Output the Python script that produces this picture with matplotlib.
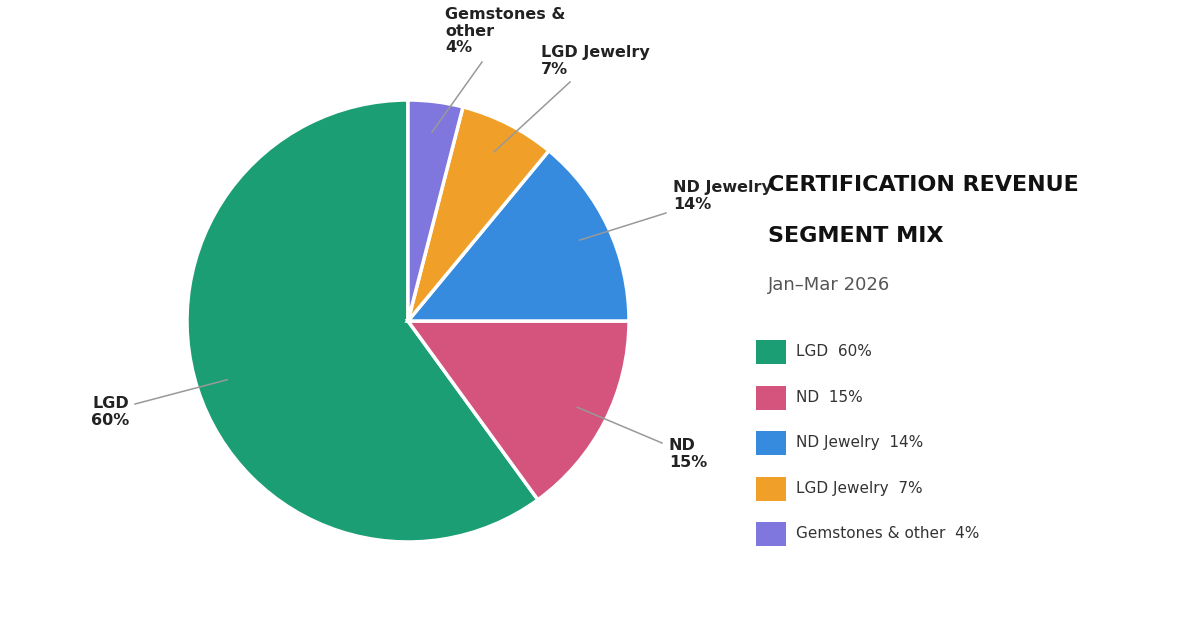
import numpy as np
import matplotlib
matplotlib.use("Agg")
import matplotlib.pyplot as plt
from matplotlib.patches import Rectangle

labels = ["LGD", "ND", "ND Jewelry", "LGD Jewelry", "Gemstones & other"]
values = [60, 15, 14, 7, 4]
colors = ["#1c9e74", "#d4547e", "#368bde", "#f0a028", "#7f76de"]
label_text = ["LGD\n60%", "ND\n15%", "ND Jewelry\n14%", "LGD Jewelry\n7%", "Gemstones &\nother\n4%"]
# label anchor (pixels) and leader-line elbow (pixels)
text_px = [(129, 412), (669, 454), (673, 196), (541, 61), (445, 31)]
elbow_px = [(135, 404), (662, 443), (666, 213), (570, 82), (482, 62)]
text_ha = ["right", "left", "left", "left", "left"]

W, H = 1200, 630
cx, cy, R = 408, 321, 221
fig = plt.figure(figsize=(12, 6.3), dpi=100)
ax = fig.add_axes([(cx - R) / W, (H - cy - R) / H, 2 * R / W, 2 * R / H])
wedges, _ = ax.pie(values, colors=colors, startangle=90, counterclock=True,
                   wedgeprops=dict(edgecolor="white", linewidth=2.5))
ax.set_xlim(-1, 1)
ax.set_ylim(-1, 1)
ax.set_aspect("equal")


def to_data(p):
    return ((p[0] - cx) / R, (cy - p[1]) / R)


for w, txt, tp, ep, ha in zip(wedges, label_text, text_px, elbow_px, text_ha):
    mid = np.deg2rad((w.theta1 + w.theta2) / 2)
    start = (0.86 * np.cos(mid), 0.86 * np.sin(mid))
    ex, ey = to_data(ep)
    ax.plot([start[0], ex], [start[1], ey], color="#999999", lw=1.1, clip_on=False)
    tx, ty = to_data(tp)
    ax.text(tx, ty, txt, ha=ha, va="center", fontsize=11.5, fontweight="bold",
            color="#222222", clip_on=False, linespacing=1.1)

fig.text(768 / W, 1 - 185 / H, "CERTIFICATION REVENUE", fontsize=16, fontweight="bold",
         color="#111111", va="center")
fig.text(768 / W, 1 - 236 / H, "SEGMENT MIX", fontsize=16, fontweight="bold",
         color="#111111", va="center")
fig.text(768 / W, 1 - 285 / H, "Jan\u2013Mar 2026", fontsize=13, color="#555555", va="center")

for i, (lab, v, c) in enumerate(zip(labels, values, colors)):
    y = 352 + 45.5 * i
    fig.patches.append(Rectangle((756 / W, 1 - (y + 12) / H), 30 / W, 24 / H,
                                 transform=fig.transFigure, facecolor=c, edgecolor="none"))
    fig.text(796 / W, 1 - y / H, f"{lab}  {v}%", fontsize=11, color="#333333", va="center")

fig.savefig("out.png", dpi=100, facecolor="white")
